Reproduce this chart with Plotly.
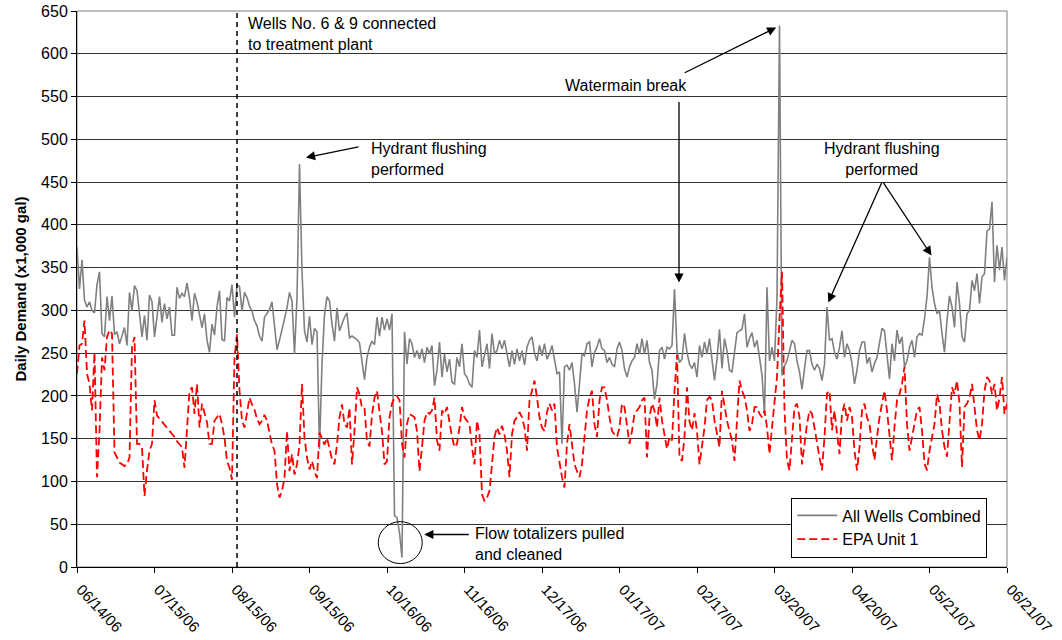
import pandas as pd
import plotly.graph_objects as go

# Daily demand, thousands of gallons, one value per day from 06/14/06 to 06/21/07
start_date = "2006-06-14"

all_wells = [
    374, 325, 359, 312, 304, 310, 300, 297, 330, 345,
    273, 269, 316, 288, 317, 272, 275, 261, 270, 280,
    259, 321, 300, 329, 323, 298, 269, 294, 265, 318,
    310, 269, 290, 316, 286, 308, 290, 304, 271, 271,
    327, 314, 320, 316, 332, 314, 288, 320, 310, 295,
    280, 296, 265, 251, 284, 271, 304, 323, 266, 264,
    315, 311, 330, 292, 330, 328, 299, 321, 315, 305,
    299, 288, 282, 270, 264, 292, 297, 301, 310, 280,
    254, 265, 276, 290, 303, 321, 311, 249, 315, 471,
    346, 276, 263, 293, 260, 279, 275, 138, 238, 295,
    316, 311, 284, 264, 303, 276, 284, 292, 297, 268,
    270, 268, 266, 262, 240, 219, 245, 257, 264, 260,
    292, 270, 292, 277, 290, 277, 296, 60, 58, 40,
    11, 275, 237, 267, 261, 245, 253, 243, 255, 239,
    257, 249, 259, 212, 230, 263, 222, 249, 228, 243,
    216, 214, 245, 234, 261, 226, 222, 214, 210, 253,
    245, 277, 234, 249, 261, 232, 273, 249, 253, 265,
    255, 265, 249, 234, 253, 237, 255, 241, 253, 236,
    257, 265, 269, 250, 241, 259, 247, 261, 243, 249,
    259, 241, 226, 228, 144, 234, 236, 230, 239, 214,
    181, 214, 249, 247, 261, 263, 234, 251, 257, 267,
    255, 253, 239, 245, 237, 234, 255, 263, 253, 232,
    222, 234, 241, 245, 261, 249, 267, 249, 265, 239,
    230, 196, 214, 253, 257, 243, 257, 255, 259, 325,
    253, 239, 243, 273, 251, 237, 232, 239, 222, 259,
    245, 263, 249, 267, 241, 218, 243, 278, 232, 267,
    253, 230, 228, 251, 274, 276, 278, 296, 257, 267,
    274, 257, 265, 245, 224, 178, 327, 241, 257, 241,
    315, 633, 224, 235, 241, 253, 265, 261, 241, 228,
    208, 232, 253, 253, 237, 230, 237, 232, 218, 237,
    304, 265, 267, 251, 243, 257, 276, 245, 261, 253,
    238, 214, 230, 253, 263, 263, 238, 245, 228, 238,
    245, 262, 279, 276, 245, 220, 261, 241, 277, 261,
    269, 234, 241, 257, 265, 245, 269, 273, 271, 290,
    316, 362, 327, 308, 296, 300, 273, 251, 288, 317,
    304, 280, 333, 308, 269, 263, 296, 300, 335, 323,
    343, 308, 339, 343, 393, 395, 427, 333, 376, 347,
    374, 335, 362,
]

epa_unit1 = [
    226, 259, 261, 288, 226, 214, 183, 251, 105, 159,
    245, 230, 269, 277, 273, 134, 128, 122, 120, 118,
    120, 128, 257, 269, 144, 144, 140, 83, 113, 136,
    144, 195, 177, None, None, None, None, None, None, 152,
    147, 143, 140, 116, 159, 206, 210, 179, 214, 163,
    191, 181, 169, 144, 144, 171, 175, 179, 167, 151,
    124, 116, 102, 245, 272, 206, 171, 163, 180, 198,
    190, 184, 173, 167, 171, 178, 171, 155, 143, 136,
    97, 81, 89, 104, 159, 112, 132, 108, 120, 143,
    214, 151, 128, 114, 124, 112, 104, 157, 151, 143,
    151, 140, 126, 120, 143, 175, 190, 167, 163, 186,
    120, 159, 210, 202, 186, 186, 147, 141, 178, 198,
    206, 181, 159, 120, 124, 175, 191, 198, 200, 195,
    144, 128, 167, 179, 177, 175, 159, 112, 140, 171,
    181, 179, 183, 198, 148, 136, 183, 179, 187, 167,
    152, 140, 144, 163, 187, 175, 171, 167, 140, 120,
    171, 155, 85, 77, 81, 89, 120, 152, 163, 155,
    165, 155, 136, 105, 155, 171, 175, 181, 175, 163,
    136, 195, 206, 218, 198, 175, 163, 159, 181, 191,
    183, 191, 140, 120, 105, 93, 144, 167, 144, 120,
    112, 105, 120, 155, 183, 198, 206, 167, 152, 195,
    210, 210, 195, 175, 159, 155, 152, 163, 191, 187,
    167, 144, 159, 179, 183, 187, 195, 198, 128, 175,
    191, 183, 163, 198, 171, 152, 138, 152, 148, 206,
    248, 128, 124, 152, 210, 170, 160, 180, 159, 120,
    144, 163, 195, 199, 195, 171, 156, 140, 206, 187,
    171, 159, 148, 124, 167, 218, 206, 199, 183, 159,
    167, 187, 187, 179, 175, 183, 163, 132, 163, 191,
    222, 290, 345, 183, 125, 113, 156, 187, 191, 175,
    120, 144, 167, 183, 179, 163, 144, 128, 113, 152,
    203, 206, 160, 183, 156, 132, 179, 191, 171, 187,
    175, 136, 113, 140, 183, 191, 175, 167, 144, 125,
    152, 175, 191, 206, 183, 152, 125, 164, 195, 202,
    214, 234, 167, 136, 152, 171, 183, 187, 160, 121,
    113, 136, 152, 167, 202, 191, 160, 140, 129, 171,
    210, 202, 218, 191, 117, 187, 191, 198, 214, 187,
    160, 148, 167, 206, 222, 218, 202, 214, 183, 198,
    222, 179, 191,
]

tick_labels = ["06/14/06", "07/15/06", "08/15/06", "09/15/06", "10/16/06",
               "11/16/06", "12/17/06", "01/17/07", "02/17/07", "03/20/07",
               "04/20/07", "05/21/07", "06/21/07"]
y_ticks = list(range(0, 651, 50))

dates = pd.date_range(start_date, periods=len(all_wells), freq="D")
tick_dates = pd.to_datetime(tick_labels, format="%m/%d/%y")
t0 = pd.Timestamp(start_date)


def day(offset):
    return t0 + pd.Timedelta(days=offset)


FONT = "Liberation Sans, Arial, sans-serif"

fig = go.Figure()
fig.add_trace(go.Scatter(
    x=dates, y=all_wells, mode="lines", name="All Wells Combined",
    line=dict(color="#808080", width=1.6),
))
fig.add_trace(go.Scatter(
    x=dates, y=epa_unit1, mode="lines", name="EPA Unit 1", connectgaps=True,
    line=dict(color="#ff0000", width=1.8, dash="8px,4px"),
))

shapes = [
    # plot-area frame
    dict(type="rect", xref="paper", yref="paper", x0=0, x1=1, y0=0, y1=1,
         line=dict(color="#808080", width=1), layer="below"),
    # wells connected to treatment plant
    dict(type="line", xref="x", yref="y", x0=day(64), x1=day(64), y0=0, y1=650,
         line=dict(color="black", width=1.5, dash="5px,4px")),
    # flow totalizer dip marker
    dict(type="circle", xref="x", yref="y", x0=day(120.5), x1=day(138.1), y0=4, y1=53,
         line=dict(color="black", width=1)),
]

txt = dict(family=FONT, size=16, color="black")
annotations = [
    dict(x=day(67.6), y=648, text="Wells No. 6 &amp; 9 connected<br>to treatment plant",
         xanchor="left", yanchor="top", align="left", showarrow=False, font=txt),
    dict(x=day(116.9), y=477, text="Hydrant flushing<br>performed",
         xanchor="left", yanchor="middle", align="left", showarrow=False, font=txt),
    dict(x=day(219.5), y=563, text="Watermain break",
         xanchor="center", yanchor="middle", showarrow=False, font=txt),
    dict(x=day(321.9), y=477, text="Hydrant flushing<br>performed",
         xanchor="center", yanchor="middle", align="center", showarrow=False, font=txt),
    dict(x=day(158.2), y=27, text="Flow totalizers pulled<br>and cleaned",
         xanchor="left", yanchor="middle", align="left", showarrow=False, font=txt),
]

arrow = dict(text="", showarrow=True, arrowhead=2, arrowsize=1.4, arrowwidth=1.3,
             arrowcolor="black", standoff=0, startstandoff=0, xref="x", yref="y")
for hx, hy, ax, ay in [
    (91.6, 478.7, 54, -11),
    (279.7, 630.7, -93, 46),
    (240.8, 332.6, 0, -182),
    (300.5, 309.2, 54, -121),
    (341.8, 364.2, -49, -74),
    (138.9, 38, 46, 0),
]:
    annotations.append(dict(arrow, x=day(hx), y=hy, ax=ax, ay=ay))

fig.update_layout(
    width=1062, height=640,
    margin=dict(l=77, r=55, t=11, b=73),
    paper_bgcolor="white", plot_bgcolor="white",
    font=dict(family=FONT, size=16, color="black"),
    shapes=shapes, annotations=annotations,
    showlegend=True,
    legend=dict(x=0.768, y=0.125, xanchor="left", yanchor="top",
                bordercolor="black", borderwidth=1, bgcolor="white",
                font=dict(family=FONT, size=16, color="black"),
                itemwidth=40, tracegroupgap=0),
    xaxis=dict(
        type="date", range=[dates[0], dates[-1]], automargin=False,
        tickmode="array", tickvals=tick_dates, ticktext=tick_labels,
        tickangle=47, ticks="outside", ticklen=5, tickcolor="black",
        ticklabelstandoff=2, ticklabelshift=4,
        showline=True, linecolor="black", linewidth=1,
        showgrid=False, zeroline=False,
        tickfont=dict(family=FONT, size=15, color="black"),
    ),
    yaxis=dict(
        range=[0, 650], tickmode="array", tickvals=y_ticks, automargin=False,
        ticks="outside", ticklen=5, tickcolor="black",
        showline=True, linecolor="black", linewidth=1,
        showgrid=True, gridcolor="#333333", gridwidth=1, zeroline=False,
        tickfont=dict(family=FONT, size=16, color="black"),
        title=dict(text="<b>Daily Demand (x1,000 gal)</b>", standoff=10,
                   font=dict(family=FONT, size=15, color="black")),
    ),
)

fig.write_html("out.html")
